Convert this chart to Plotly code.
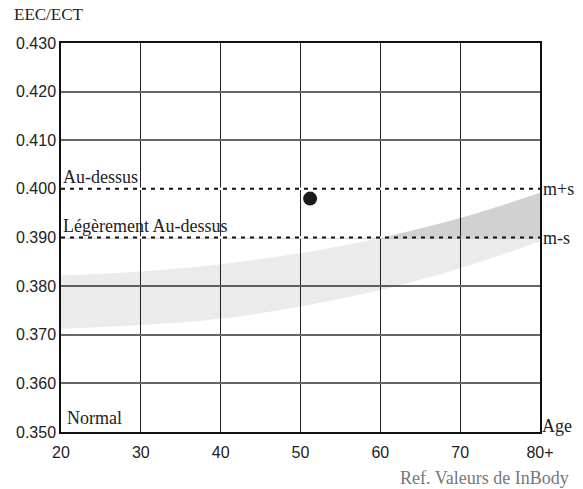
import plotly.graph_objects as go

# ---- data ----
ages = [20, 30, 40, 50, 60, 70, 80]
band_upper = [0.3822, 0.3830, 0.3845, 0.3868, 0.3899, 0.3940, 0.3992]
band_lower = [0.3712, 0.3720, 0.3733, 0.3758, 0.3792, 0.3837, 0.3892]
upper_limit = 0.400   # m+s
lower_limit = 0.390   # m-s
point_age = [51.2]
point_value = [0.398]
x_ticks = [20, 30, 40, 50, 60, 70, 80]
x_tick_labels = ["20", "30", "40", "50", "60", "70", "80+"]
y_ticks = [0.350, 0.360, 0.370, 0.380, 0.390, 0.400, 0.410, 0.420, 0.430]

SERIF = "Liberation Serif"
SANS = "Liberation Sans"

fig = go.Figure()

# white underlay hiding the solid gridline beneath the dotted limit lines
for lim in (upper_limit, lower_limit):
    fig.add_trace(go.Scatter(x=[ages[0], ages[-1]], y=[lim, lim], mode="lines",
                             line=dict(color="white", width=2.5),
                             hoverinfo="skip", showlegend=False))

# light band (lower -> upper)
fig.add_trace(go.Scatter(x=ages, y=band_lower, mode="lines", line=dict(width=0, shape="spline"),
                         hoverinfo="skip", showlegend=False))
fig.add_trace(go.Scatter(x=ages, y=band_upper, mode="lines", line=dict(width=0, shape="spline"),
                         fill="tonexty", fillcolor="rgba(0,0,0,0.08)", hoverinfo="skip", showlegend=False))

# darker part of the band above m-s
cross_i = next(i for i, v in enumerate(band_upper) if v > lower_limit)
x0, x1 = ages[cross_i - 1], ages[cross_i]
y0, y1 = band_upper[cross_i - 1], band_upper[cross_i]
x_cross = x0 + (lower_limit - y0) / (y1 - y0) * (x1 - x0)
dark_x = [x_cross] + ages[cross_i:]
dark_y = [lower_limit] + band_upper[cross_i:]
fig.add_trace(go.Scatter(x=[x_cross, ages[-1]], y=[lower_limit, lower_limit], mode="lines",
                         line=dict(width=0), hoverinfo="skip", showlegend=False))
fig.add_trace(go.Scatter(x=dark_x, y=dark_y, mode="lines", line=dict(width=0, shape="spline"),
                         fill="tonexty", fillcolor="rgba(0,0,0,0.11)", hoverinfo="skip", showlegend=False))

# dotted limit lines
for lim in (upper_limit, lower_limit):
    fig.add_trace(go.Scatter(x=[ages[0], ages[-1]], y=[lim, lim], mode="lines",
                             line=dict(color="#111", width=2, dash="4px,5px"),
                             hoverinfo="skip", showlegend=False))

# measured point
fig.add_trace(go.Scatter(x=point_age, y=point_value, mode="markers",
                         marker=dict(color="#1a1a1a", size=14), showlegend=False))

fig.update_xaxes(range=[20, 80], tickvals=x_ticks, ticktext=x_tick_labels,
                 showgrid=True, gridcolor="#222", gridwidth=1,
                 showline=True, linecolor="#111", linewidth=1.5, mirror=True,
                 ticks="", zeroline=False, ticklabelstandoff=5,
                 tickfont=dict(family=SANS, size=16, color="#222"))
fig.update_yaxes(range=[0.350, 0.430], tickvals=y_ticks, tickformat=".3f",
                 showgrid=True, gridcolor="#666", gridwidth=1.5,
                 showline=True, linecolor="#111", linewidth=1.5, mirror=True,
                 ticks="", zeroline=False,
                 tickfont=dict(family=SANS, size=16, color="#222"))

ann_font = dict(family=SERIF, size=18, color="#222")
annotations = [
    dict(text="EEC/ECT", xref="paper", yref="paper", x=(12 - 61) / 479, y=(432 - 15) / 389,
         xanchor="left", yanchor="middle", showarrow=False, font=dict(family=SERIF, size=17, color="#222")),
    dict(text="Au-dessus", x=20, y=upper_limit, xanchor="left", yanchor="bottom",
         xshift=0, yshift=0, showarrow=False, font=ann_font),
    dict(text="Légèrement Au-dessus", x=20, y=lower_limit, xanchor="left", yanchor="bottom",
         xshift=0, yshift=0, showarrow=False, font=ann_font),
    dict(text="Normal", x=20, y=0.350, xanchor="left", yanchor="bottom",
         xshift=4, yshift=2, showarrow=False, font=ann_font),
    dict(text="m+s", x=80, y=upper_limit, xanchor="left", yanchor="middle",
         xshift=1, showarrow=False, font=ann_font),
    dict(text="m-s", x=80, y=lower_limit, xanchor="left", yanchor="middle",
         xshift=1, showarrow=False, font=ann_font),
    dict(text="Age", x=80, y=0.350, xanchor="left", yanchor="middle",
         xshift=0, yshift=6, showarrow=False, font=ann_font),
    dict(text="Ref. Valeurs de InBody", xref="paper", yref="paper",
         x=(571 - 61) / 479, y=(432 - 478) / 389, xanchor="right", yanchor="middle",
         showarrow=False, font=dict(family=SERIF, size=18, color="#777")),
]
fig.update_layout(
    width=583, height=489,
    margin=dict(l=61, r=43, t=43, b=57),
    plot_bgcolor="white", paper_bgcolor="white",
    annotations=annotations,
    showlegend=False,
)

fig.write_html("out.html", config={"displayModeBar": False},
               post_script="document.body.style.margin='0';document.body.style.overflow='hidden';")
